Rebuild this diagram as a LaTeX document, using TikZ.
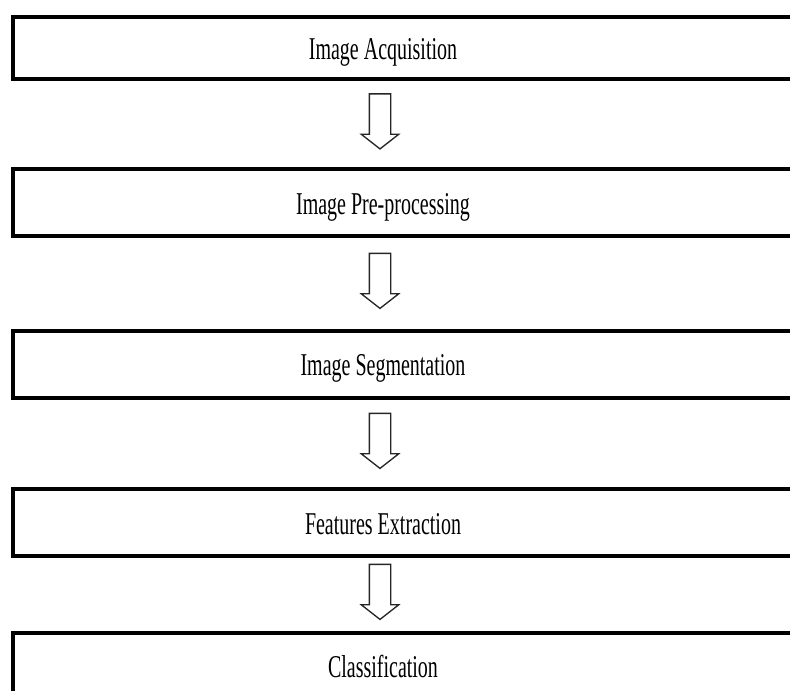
\documentclass[tikz,border=0pt]{standalone}
\usepackage{fontspec}
\setmainfont{Liberation Serif}
\usetikzlibrary{shapes.arrows,calc}

\newcommand{\squeezed}[1]{\scalebox{0.63}[1]{#1}}

\begin{document}
\begin{tikzpicture}[x=0.75pt, y=-0.75pt,
    stage/.style={draw, line width=3pt, anchor=north west, outer sep=0pt, inner sep=0pt, minimum width=600pt},
    caption/.style={anchor=base, inner sep=0pt, font=\fontsize{23.8pt}{28pt}\selectfont},
    flow/.style={draw=black!85, line width=1pt, single arrow, rotate=-90, inner sep=7.5pt,
      minimum height=41.25pt, single arrow head extend=6pt, single arrow tip angle=104}]
  \useasboundingbox (0,0) rectangle (790,691);
  \clip (0,0) rectangle (790,691);
  % the five stages
  \foreach \name/\top/\boxh/\txt in {acq/17/46.5/Image Acquisition, pre/169.5/50.25/Image Pre-processing,
      seg/331/50.25/Image Segmentation, feat/489.5/50.25/Features Extraction, cls/633/50.25/Classification} {
    \node[stage, minimum height=\boxh pt] (\name) at (12.5,\top) {};
    \node[caption] (\name-txt) at ($(\name.center)+(-29.5,11.5)$) {\squeezed{\txt}};
  }
  % hollow arrows between them
  \foreach \from/\to in {acq/pre, pre/seg, seg/feat, feat/cls}
    \node[flow] (\from-\to) at ($(\from.south)!0.5!(\to.north)+(-32.5,-7)$) {};
\end{tikzpicture}
\end{document}
